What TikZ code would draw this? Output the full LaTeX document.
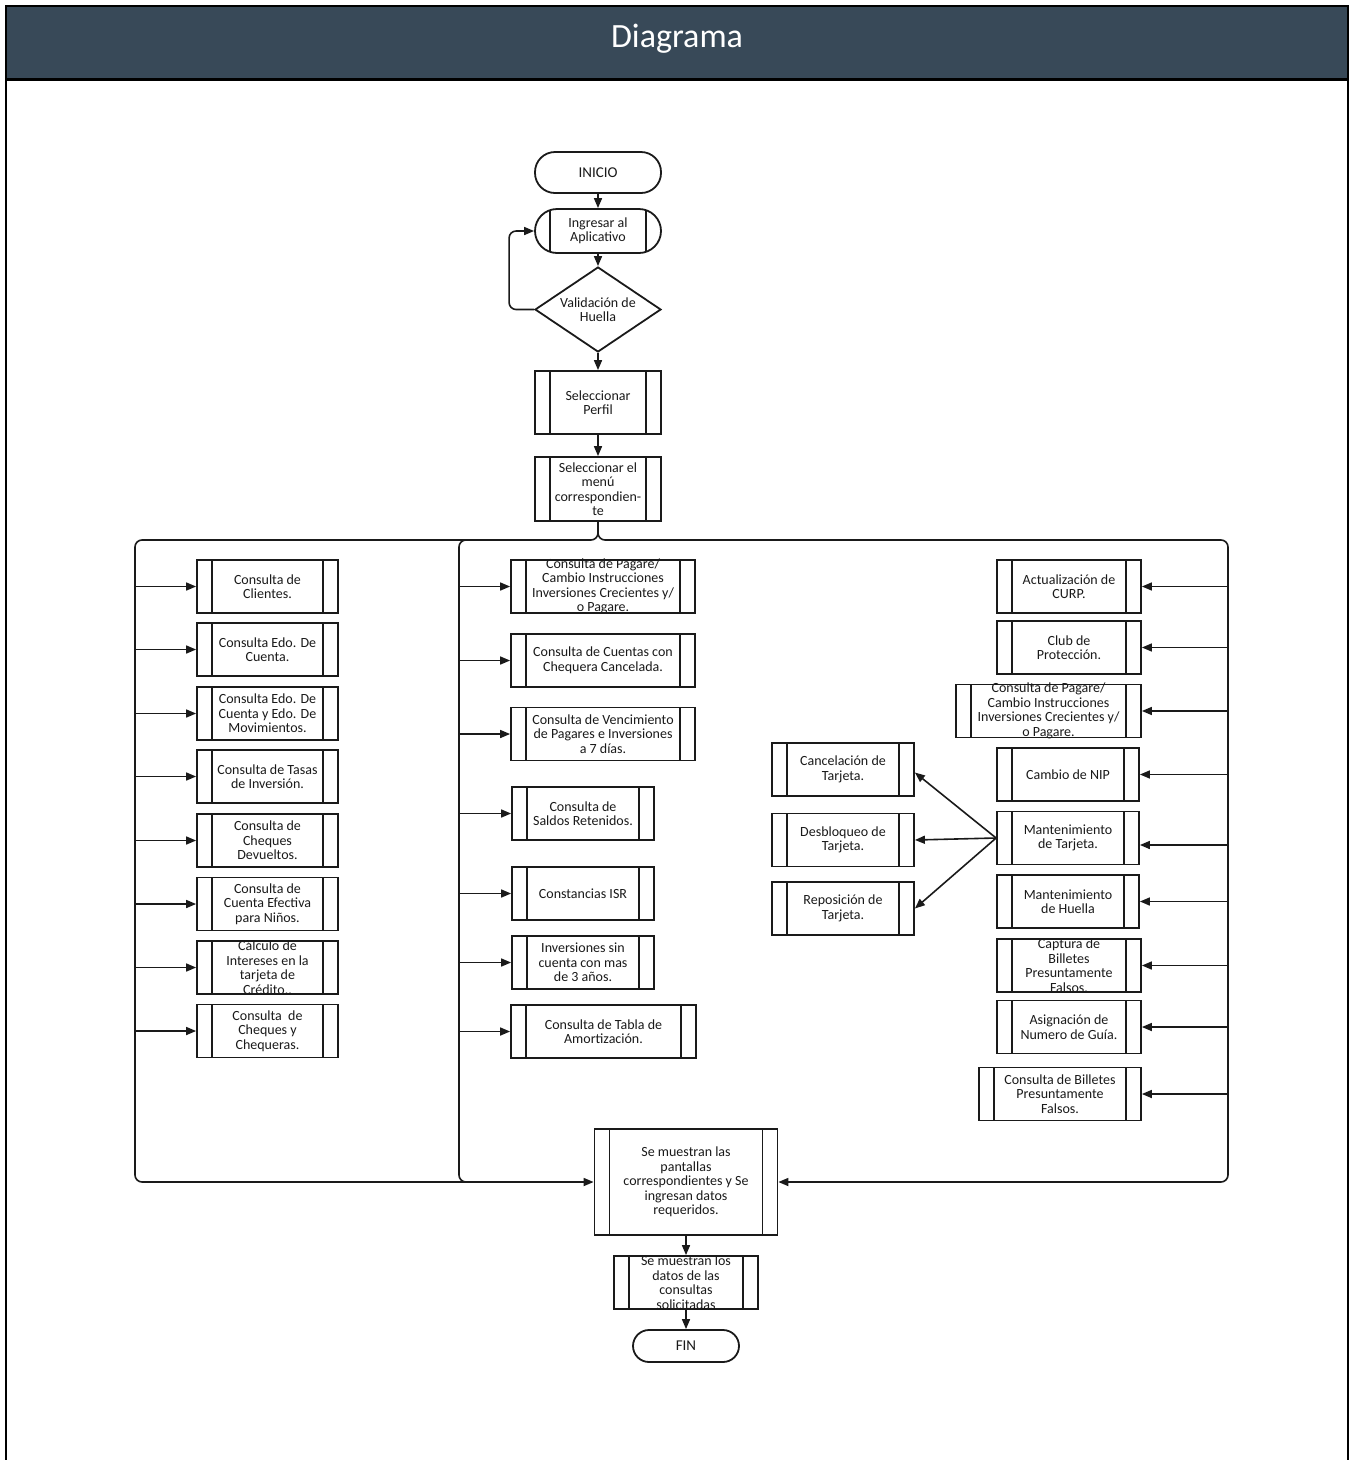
\documentclass[tikz,border=0pt]{standalone}
\usepackage{fontspec}
\setmainfont{Carlito}
\usetikzlibrary{arrows.meta,shapes.geometric}
\definecolor{hdr}{HTML}{384958}
\definecolor{ink}{HTML}{1A1A1A}

\tikzset{
  box/.style={draw=ink, line width=1.8pt, fill=white, inner sep=0pt},
  proc/.style={box, minimum height=53pt, path picture={
     \draw[ink, line width=1.8pt]
       ([xshift=15pt]path picture bounding box.north west) -- ([xshift=15pt]path picture bounding box.south west)
       ([xshift=-15pt]path picture bounding box.north east) -- ([xshift=-15pt]path picture bounding box.south east);}},
  txt/.style={font=\fontsize{14}{14.5}\selectfont, align=center, text=ink, inner sep=0pt},
  say/.style={label={[txt]center:{#1}}},
  term/.style={box, rounded corners=20pt, minimum width=126pt},
  tip/.style={-{Triangle[length=10pt,width=8pt]}},
  arr/.style={draw=ink, line width=1.6pt, tip},
  bus/.style={draw=ink, line width=1.6pt, rounded corners=7pt},
}

\begin{document}
\begin{tikzpicture}[x=1pt, y=-1pt]
\useasboundingbox (0,0) rectangle (1355,1460);

% frame and title bar
\fill[hdr] (6,6) rectangle (1348,79);
\draw[black, line width=3pt] (5,79) -- (1349,79);
\draw[black, line width=2.5pt] (6,1470) -- (6,6) -- (1348,6) -- (1348,1470);
\node[anchor=base, text=white, font=\fontsize{34}{40}\selectfont] (title) at (677,47) {Diagrama};

% main trunk
\node[term, minimum height=41pt, say={\fontsize{15}{16}\selectfont INICIO}] (ini) at (598,172.5) {};
\node[term, rounded corners=22pt, minimum height=44pt, path picture={
     \draw[ink, line width=1.8pt]
       ([xshift=15pt]path picture bounding box.north west) -- ([xshift=15pt]path picture bounding box.south west)
       ([xshift=-15pt]path picture bounding box.north east) -- ([xshift=-15pt]path picture bounding box.south east);},
     say={Ingresar al\\Aplicativo}] (ing) at (598,231) {};
\node[box, diamond, minimum width=126pt, minimum height=85pt, say={Validación de\\Huella}] (val) at (598,309.5) {};
\node[proc, minimum width=126pt, minimum height=63pt, say={Seleccionar\\Perfil}] (perf) at (598,402.5) {};
\node[proc, minimum width=126pt, minimum height=64pt, say={Seleccionar el\\menú\\correspondien-\\te}] (menu) at (598,489) {};

% left column
\node[proc, minimum width=141pt, say={Consulta de\\Clientes.}] (c1) at (267.5,586.5) {};
\node[proc, minimum width=141pt, say={Consulta Edo. De\\Cuenta.}] (c2) at (267.5,649.5) {};
\node[proc, minimum width=141pt, say={Consulta Edo. De\\Cuenta y Edo. De\\Movimientos.}] (c3) at (267.5,713.5) {};
\node[proc, minimum width=141pt, say={Consulta de Tasas\\de Inversión.}] (c4) at (267.5,776.5) {};
\node[proc, minimum width=141pt, say={Consulta de\\Cheques\\Devueltos.}] (c5) at (267.5,840.5) {};
\node[proc, minimum width=141pt, say={Consulta de\\Cuenta Efectiva\\para Niños.}] (c6) at (267.5,904) {};
\node[proc, minimum width=141pt, say={Cálculo de\\Intereses en la\\tarjeta de\\Crédito..}] (c7) at (267.5,967.5) {};
\node[proc, minimum width=141pt, say={Consulta\ \ de\\Cheques y\\Chequeras.}] (c8) at (267.5,1031) {};

% middle column
\node[proc, minimum width=184pt, say={Consulta de Pagare/\\Cambio Instrucciones\\Inversiones Crecientes y/\\o Pagare.}] (m1) at (603,586.5) {};
\node[proc, minimum width=184pt, say={Consulta de Cuentas con\\Chequera Cancelada.}] (m2) at (603,660.5) {};
\node[proc, minimum width=184pt, say={Consulta de Vencimiento\\de Pagares e Inversiones\\a 7 días.}] (m3) at (603,734) {};
\node[proc, minimum width=142pt, say={Consulta de\\Saldos Retenidos.}] (m4) at (583,813.5) {};
\node[proc, minimum width=142pt, say={Constancias ISR}] (m5) at (583,893.5) {};
\node[proc, minimum width=142pt, say={Inversiones sin\\cuenta con mas\\de 3 años.}] (m6) at (583,962.5) {};
\node[proc, minimum width=185pt, say={Consulta de Tabla de\\Amortización.}] (m7) at (603.5,1031.5) {};

% right column
\node[proc, minimum width=144pt, say={Actualización de\\CURP.}] (r1) at (1069,586.5) {};
\node[proc, minimum width=144pt, say={Club de\\Protección.}] (r2) at (1069,647.5) {};
\node[proc, minimum width=185pt, say={Consulta de Pagare/\\Cambio Instrucciones\\Inversiones Crecientes y/\\o Pagare.}] (r3) at (1048.5,711) {};
\node[proc, minimum width=142pt, say={Cambio de NIP}] (r4) at (1068,774.5) {};
\node[proc, minimum width=142pt, say={Mantenimiento\\de Tarjeta.}] (r5) at (1068,838) {};
\node[proc, minimum width=142pt, say={Mantenimiento\\de Huella}] (r6) at (1068,901.5) {};
\node[proc, minimum width=144pt, say={Captura de\\Billetes\\Presuntamente\\Falsos.}] (r7) at (1069,965.5) {};
\node[proc, minimum width=144pt, say={Asignación de\\Numero de Guía.}] (r8) at (1069,1027) {};
\node[proc, minimum width=162pt, say={Consulta de Billetes\\Presuntamente\\Falsos.}] (r9) at (1060,1094) {};

% card maintenance options
\node[proc, minimum width=142pt, say={Cancelación de\\Tarjeta.}] (t1) at (843,769.5) {};
\node[proc, minimum width=142pt, say={Desbloqueo de\\Tarjeta.}] (t2) at (843,840) {};
\node[proc, minimum width=142pt, say={Reposición de\\Tarjeta.}] (t3) at (843,908.5) {};

% closing steps
\node[proc, minimum width=183pt, minimum height=106pt, say={Se muestran las\\pantallas\\correspondientes y Se\\ingresan datos\\requeridos.}] (big) at (686,1182) {};
\node[proc, minimum width=144pt, say={Se muestran los\\datos de las\\consultas\\solicitadas}] (datos) at (686,1282.5) {};
\node[term, minimum width=106pt, minimum height=32pt, rounded corners=16pt, say={\fontsize{15}{16}\selectfont FIN}] (fin) at (686,1346) {};

% trunk connectors
\draw[arr] (ini) -- (ing);
\draw[arr] (ing) -- (val);
\draw[arr] (val) -- (perf);
\draw[arr] (perf) -- (menu);
\draw[arr, rounded corners=7pt] (val.west) -- ++(-25,0) |- (ing.west);

% distribution buses
\coordinate (busL) at (135,540);
\coordinate (busM) at (459,540);
\coordinate (busR) at (1228,540);
\draw[bus, tip] (menu.south) |- (busL) |- (big.west);
\draw[bus, tip] (menu.south) |- (busR) |- (big.east);
\draw[bus] ([xshift=20pt]busM) -| (busM |- big.west) -- ++(20,0);

\foreach \n in {c1,c2,c3,c4,c5,c6,c7,c8} \draw[arr] (busL |- \n.west) -- (\n.west);
\foreach \n in {m1,m2,m3,m4,m5,m6,m7} \draw[arr] (busM |- \n.west) -- (\n.west);
\foreach \n in {r1,r2,r3,r4,r6,r7,r8,r9} \draw[arr] (busR |- \n.east) -- (\n.east);
\coordinate (r5in) at ([yshift=-7pt]r5.east);
\draw[arr] (busR |- r5in) -- (r5in);

% card options fan out from the maintenance step
\coordinate (t1in) at ([yshift=-3pt]t1.east);
\draw[arr] (r5.west) -- (t1in);
\draw[arr] (r5.west) -- (t2.east);
\draw[arr] (r5.west) -- (t3.east);

\draw[arr] (big) -- (datos);
\draw[arr] (datos) -- (fin);
\end{tikzpicture}
\end{document}
